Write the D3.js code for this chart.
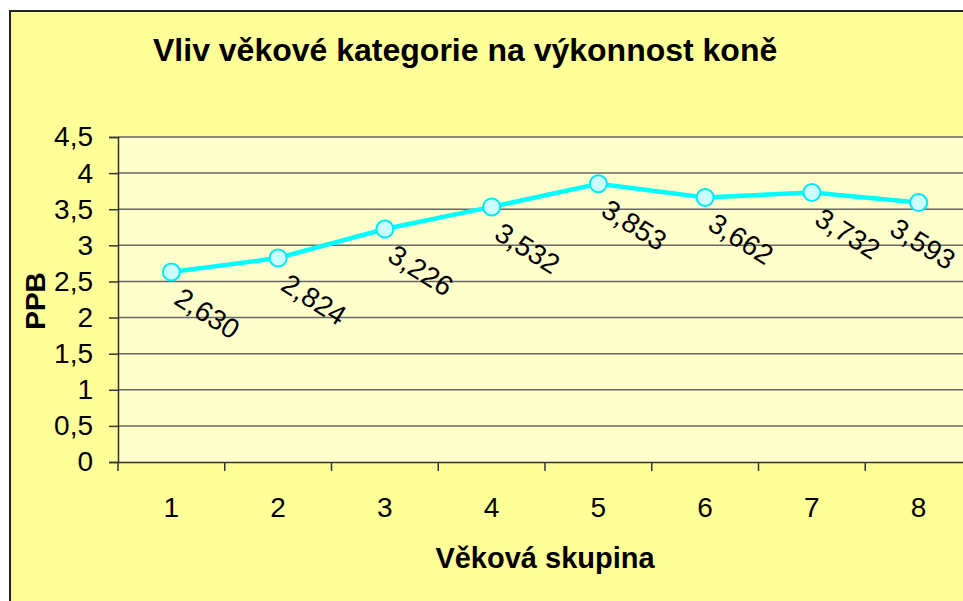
<!DOCTYPE html>
<html>
<head>
<meta charset="utf-8">
<script src="https://cdn.jsdelivr.net/npm/d3@7"></script>
<style>
  html, body { margin: 0; padding: 0; background: #ffffff; }
  svg { display: block; font-family: Arial, "Liberation Sans", sans-serif; }
</style>
</head>
<body>
<svg id="chart" width="963" height="601"></svg>
<script>
const categories = ['1', '2', '3', '4', '5', '6', '7', '8'];
const values = [2.630, 2.824, 3.226, 3.532, 3.853, 3.662, 3.732, 3.593];
const yTicks = [0, 0.5, 1, 1.5, 2, 2.5, 3, 3.5, 4, 4.5];

const svg = d3.select('#chart');
const plot = { left: 118, top: 137, width: 854, height: 325 };
const fmt = v => d3.format('.3f')(v).replace('.', ',');
const tickFmt = v => String(v).replace('.', ',');
const angle = 32;

// chart area
svg.append('rect')
  .attr('x', 10).attr('y', 11)
  .attr('width', 1000).attr('height', 620)
  .attr('fill', '#ffff99')
  .attr('stroke', '#222').attr('stroke-width', 2);

svg.append('text')
  .attr('x', 153).attr('y', 61)
  .attr('font-size', 32).attr('font-weight', 'bold')
  .text('Vliv věkové kategorie na výkonnost koně');

const g = svg.append('g')
  .attr('transform', 'translate(' + plot.left + ',' + plot.top + ')');

const x = d3.scaleBand()
  .domain(categories)
  .range([0, plot.width]);

const y = d3.scaleLinear()
  .domain([0, 4.5])
  .range([plot.height, 0]);

g.append('rect')
  .attr('width', plot.width).attr('height', plot.height)
  .attr('fill', '#ffffcc');

g.selectAll('line.grid')
  .data(yTicks.filter(t => t > 0))
  .enter()
  .append('line')
  .attr('class', 'grid')
  .attr('x1', 0).attr('x2', plot.width)
  .attr('y1', d => y(d)).attr('y2', d => y(d))
  .attr('stroke', '#666').attr('stroke-width', 1.5);

const yAxis = g.append('g')
  .call(d3.axisLeft(y).tickValues(yTicks).tickFormat(tickFmt).tickSize(9).tickPadding(16));
yAxis.select('.domain').attr('stroke', '#333').attr('stroke-width', 1.5);
yAxis.selectAll('.tick line').attr('stroke', '#333').attr('stroke-width', 1.5);
yAxis.selectAll('text').attr('font-size', 28).attr('fill', '#000').attr('font-family', 'Arial, "Liberation Sans", sans-serif');

const xAxis = g.append('g')
  .attr('transform', 'translate(0,' + plot.height + ')')
  .call(d3.axisBottom(x).tickSize(0).tickPadding(35));
xAxis.select('.domain').attr('stroke', '#333').attr('stroke-width', 1.5);
xAxis.selectAll('text').attr('font-size', 28).attr('fill', '#000').attr('font-family', 'Arial, "Liberation Sans", sans-serif');

// ticks between categories
g.selectAll('line.xtick')
  .data(d3.range(categories.length + 1))
  .enter()
  .append('line')
  .attr('class', 'xtick')
  .attr('x1', i => i * x.bandwidth()).attr('x2', i => i * x.bandwidth())
  .attr('y1', plot.height).attr('y2', plot.height + 9)
  .attr('stroke', '#333').attr('stroke-width', 1.5);

const cx = d => x(d) + x.bandwidth() / 2;

g.append('path')
  .datum(values)
  .attr('fill', 'none')
  .attr('stroke', '#00ffff')
  .attr('stroke-width', 4.5)
  .attr('d', d3.line().x((d, i) => cx(categories[i])).y(d => y(d)));

g.selectAll('circle')
  .data(values)
  .enter()
  .append('circle')
  .attr('cx', (d, i) => cx(categories[i]))
  .attr('cy', d => y(d))
  .attr('r', 8.5)
  .attr('fill', '#ccffff')
  .attr('stroke', '#00e8ff')
  .attr('stroke-width', 2);

// data labels, pushed left when they would run past the visible edge
const rad = angle * Math.PI / 180;
const maxRight = 958 - plot.left;
g.selectAll('text.lbl')
  .data(values)
  .enter()
  .append('text')
  .attr('class', 'lbl')
  .attr('font-size', 28)
  .text(d => fmt(d))
  .attr('transform', function(d, i) {
    const w = this.getComputedTextLength() * Math.cos(rad) + 20 * Math.sin(rad);
    let lx = cx(categories[i]) + 1;
    if (lx + w > maxRight) lx = maxRight - w;
    return 'translate(' + lx + ',' + (y(d) + 31) + ') rotate(' + angle + ')';
  });

svg.append('text')
  .attr('x', 545).attr('y', 568)
  .attr('text-anchor', 'middle')
  .attr('font-size', 29).attr('font-weight', 'bold')
  .text('Věková skupina');

svg.append('text')
  .attr('transform', 'translate(45,301) rotate(-90)')
  .attr('text-anchor', 'middle')
  .attr('font-size', 28).attr('font-weight', 'bold')
  .text('PPB');
</script>
</body>
</html>
